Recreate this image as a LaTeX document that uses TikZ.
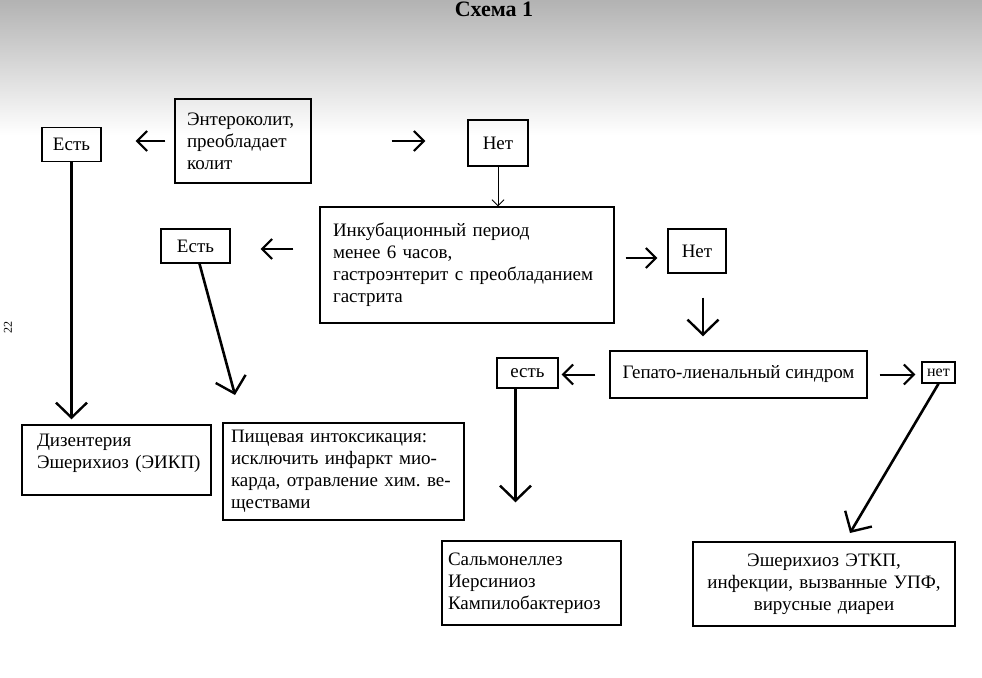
\documentclass[tikz,border=0pt]{standalone}
\usepackage{fontspec}
\setmainfont{Liberation Serif}
\usetikzlibrary{arrows.meta}
\frenchspacing

\tikzset{
  box/.style={draw, line width=1.4pt, inner sep=0pt, font=\fontsize{19}{22}\selectfont},
  textbox/.style={box, align=left, inner xsep=13pt},
  answer/.style={box, minimum height=34pt},
  thickarrow/.style={line width=2.6pt, -{Straight Barb[length=15pt,width=31pt,line width=2.4pt]}},
  shortarrow/.style={line width=2pt, -{Straight Barb[length=10pt,width=20pt,line width=2pt]}},
  thinarrow/.style={line width=0.9pt, -{Straight Barb[length=6pt,width=12pt,line width=0.9pt]}},
}

\begin{document}
\begin{tikzpicture}[x=1pt, y=-1pt]
  \useasboundingbox (0,0) rectangle (982,677);
  \shade [top color=black!30, bottom color=white] (0,0) rectangle (982,135);

  \node [font=\bfseries\fontsize{22}{24}\selectfont] (title) at (494,9) {Схема 1};
  \node [rotate=90, font=\fontsize{12}{14}\selectfont] (page) at (8,327) {22};

  % first question
  \node [textbox, text width=112pt, minimum height=84pt, inner xsep=12pt] (entero) at (243,141)
    {Энтероколит,\\преобладает\\колит};
  \node [answer, minimum width=59pt] (est1) at (71.5,144.5) {Есть};
  \node [answer, minimum width=60pt, minimum height=46pt] (net1) at (498,143) {Нет};

  % second question
  \node [textbox, text width=268pt, minimum height=116pt] (inc) at (467,265)
    {Инкубационный период\\менее 6 часов,\\гастроэнтерит с преобладанием\\гастрита};
  \node [answer, minimum width=69pt] (est2) at (195.5,246) {Есть};
  \node [answer, minimum width=58pt, minimum height=44pt] (net2) at (697,251) {Нет};

  % third question
  \node [box, minimum width=257pt, minimum height=47pt] (gep) at (738.5,374.5)
    {Гепато-лиенальный синдром};
  \node [answer, minimum width=61pt, minimum height=30pt] (est3) at (527.5,373) {есть};
  \node [box, minimum width=33pt, minimum height=21pt, font=\fontsize{16}{18}\selectfont] (net3) at (938.5,372.5) {нет};

  % results
  \node [textbox, text width=159pt, minimum height=70pt, inner xsep=15pt] (diz) at (116.5,460)
    {Дизентерия\\Эшерихиоз~(ЭИКП)\\[-4pt]~};
  \node [textbox, text width=225pt, minimum height=97pt, inner xsep=8pt] (pish) at (343.5,471.5)
    {Пищевая интоксикация:\\исключить инфаркт мио-\\карда, отравление хим. ве-\\ществами};
  \node [textbox, text width=167pt, minimum height=84pt, inner xsep=6pt] (sal) at (531.5,583)
    {Сальмонеллез\\Иерсиниоз\\Кампилобактериоз};
  \node [box, align=center, text width=246pt, minimum height=84pt, inner xsep=8pt] (et) at (824,584)
    {Эшерихиоз ЭТКП,\\инфекции, вызванные УПФ,\\вирусные диареи};

  \coordinate (pishtip) at (235,395);
  \coordinate (ettip) at (850,533);
  \coordinate (incl) at ([yshift=16pt]inc.west);
  \coordinate (incr) at ([yshift=7pt]inc.east);

  % short arrows
  \draw [shortarrow, shorten <=9pt, shorten >=34pt] (entero.west) -- (est1.east |- entero.west);
  \draw [shortarrow, shorten <=80pt, shorten >=42pt] (entero.east) -- (net1.west |- entero.east);
  \draw [shortarrow, shorten <=26pt, shorten >=30pt] (incl) -- (est2.east |- incl);
  \draw [shortarrow, shorten <=11pt, shorten >=10pt] (incr) -- (net2.west |- incr);
  \draw [shortarrow, shorten <=14pt, shorten >=3pt] (gep.west) -- (est3.east |- gep.west);
  \draw [shortarrow, shorten <=12pt, shorten >=6pt] (gep.east) -- (net3.west |- gep.east);

  % long arrows
  \draw [thinarrow] (net1.south) -- (net1.south |- inc.north);
  \draw [thickarrow, line width=2pt, shorten <=24pt, shorten >=14pt] ([xshift=6pt]net2.south) -- ([xshift=6pt]net2.south |- gep.north);
  \draw [thickarrow, shorten >=5pt] (est1.south) -- (est1.south |- diz.north);
  \draw [thickarrow] ([xshift=4pt]est2.south) -- (pishtip);
  \draw [thickarrow, shorten >=38pt] ([xshift=-12pt]est3.south) -- ([xshift=-12pt]est3.south |- sal.north);
  \draw [thickarrow] (net3.south) -- (ettip);
\end{tikzpicture}
\end{document}
